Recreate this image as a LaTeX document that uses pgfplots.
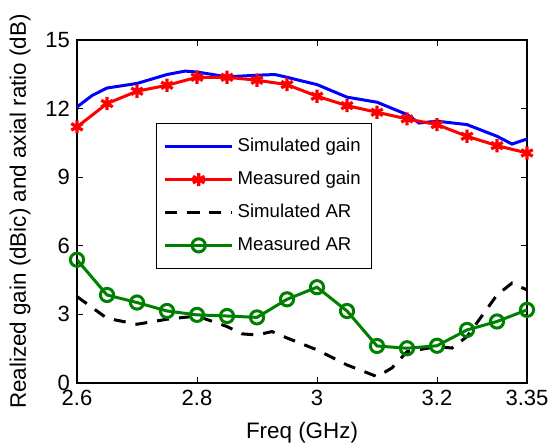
\documentclass[border=0pt]{standalone}
\usepackage{fontspec}
\setmainfont{Liberation Sans}
\usepackage{pgfplots}
\pgfplotsset{compat=1.18}
\definecolor{mgreen}{RGB}{0,128,0}
\begin{document}
\begin{tikzpicture}
\begin{axis}[
  scale only axis,
  width=225pt, height=171.5pt,
  xmin=2.6, xmax=3.35, ymin=0, ymax=15,
  xtick={2.6,2.8,3,3.2,3.35},
  xticklabels={2.6,2.8,3,3.2,3.35},
  ytick={0,3,6,9,12,15},
  tick align=inside,
  tick pos=both,
  major tick length=3pt,
  tick style={black, line width=0.5pt},
  axis line style={line width=0.6pt},
  ticklabel style={font=\fontsize{11}{12}\selectfont},
  /pgf/number format/assume math mode=true,
  xlabel={Freq (GHz)},
  ylabel={Realized gain (dBic) and axial ratio (dB)},
  label style={font=\fontsize{11.2}{12}\selectfont},
  xlabel style={at={(axis description cs:0.5,0)}, anchor=center, yshift=-25pt},
  ylabel style={at={(axis description cs:0,0.5)}, anchor=center, yshift=28.5pt},
  legend style={at={(rel axis cs:0.176,0.758)}, anchor=north west,
    font=\fontsize{9.3}{10}\selectfont, draw=black, line width=0.5pt,
    row sep=4.2pt, inner xsep=3.5pt, inner ysep=5.5pt,
    nodes={inner xsep=2pt}},
  legend cell align=left,
  legend image code/.code={
    \draw[mark repeat=2,mark phase=2] plot coordinates {(0cm,0cm) (16.75pt,0cm) (33.5pt,0cm)};
  },
]
\addplot[blue, line width=1.5pt] coordinates {
(2.6,12.07) (2.625,12.57) (2.65,12.9) (2.7,13.1) (2.75,13.49) (2.78,13.64) (2.8,13.6)
(2.85,13.39) (2.9,13.46) (2.93,13.49) (2.95,13.37) (2.97,13.24) (3.0,13.05)
(3.05,12.5) (3.1,12.28) (3.15,11.74) (3.17,11.37) (3.2,11.45) (3.25,11.3)
(3.3,10.79) (3.325,10.45) (3.35,10.67)
};
\addlegendentry{Simulated gain}
\addplot[red, line width=1.5pt, mark=asterisk, mark size=3.3pt, mark options={line width=1.6pt}] coordinates {
(2.6,11.2) (2.65,12.22) (2.7,12.76) (2.75,13.02) (2.8,13.37) (2.85,13.37) (2.9,13.24)
(2.95,13.05) (3.0,12.54) (3.05,12.13) (3.1,11.84) (3.15,11.55) (3.2,11.3)
(3.25,10.79) (3.3,10.38) (3.35,10.06)
};
\addlegendentry{Measured gain}
\addplot[black, line width=1.5pt, dash pattern=on 6pt off 5pt] coordinates {
(2.6,3.78) (2.65,2.83) (2.7,2.57) (2.75,2.79) (2.8,2.93) (2.85,2.47) (2.875,2.15)
(2.9,2.1) (2.925,2.25) (2.95,1.97) (3.0,1.45) (3.05,0.79) (3.1,0.28) (3.125,0.66)
(3.15,1.37) (3.2,1.59) (3.225,1.53) (3.25,2.03) (3.3,3.85) (3.325,4.37) (3.35,4.07)
};
\addlegendentry{Simulated AR}
\addplot[mgreen, line width=1.5pt, mark=o, mark size=3.3pt, mark options={line width=1.5pt}] coordinates {
(2.6,5.39) (2.65,3.85) (2.7,3.52) (2.75,3.15) (2.8,2.98) (2.85,2.93) (2.9,2.87)
(2.95,3.66) (3.0,4.19) (3.05,3.15) (3.1,1.62) (3.15,1.52) (3.2,1.63) (3.25,2.32)
(3.3,2.69) (3.35,3.2)
};
\addlegendentry{Measured AR}
\end{axis}
\pgfresetboundingbox
\useasboundingbox ([xshift=-38.5pt,yshift=-31pt]current axis.south west) rectangle ([xshift=12.5pt,yshift=20pt]current axis.north east);
\end{tikzpicture}
\end{document}
